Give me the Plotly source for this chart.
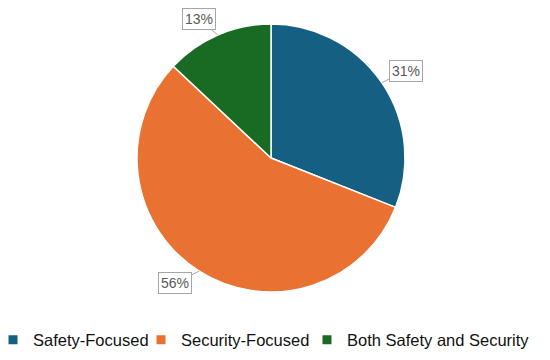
import math
import plotly.graph_objects as go

categories = ["Safety-Focused", "Security-Focused", "Both Safety and Security"]
values = [31, 56, 13]
label_texts = ["31%", "56%", "13%"]
colors = ["#156082", "#E97132", "#196B24"]

W, H = 550, 360
# the page adds an 8px body margin, so positions are expressed relative to the figure
CX_PX, CY_PX, R_PX = 263, 150, 134
dom_x = [(CX_PX - R_PX) / W, (CX_PX + R_PX) / W]
dom_y = [(H - CY_PX - R_PX) / H, (H - CY_PX + R_PX) / H]

fig = go.Figure(go.Pie(
    labels=categories, values=values, sort=False, direction="clockwise", rotation=0,
    marker=dict(colors=colors, line=dict(color="white", width=1.5)),
    textinfo="none", hoverinfo="label+percent",
    domain=dict(x=dom_x, y=dom_y), showlegend=False,
))

# legend keys (one legend per entry so each can sit where the reference puts it)
legend_names = ["legend", "legend2", "legend3"]
legend_text_x = [24, 172, 338]   # text start, figure pixels
for name, col, lg in zip(categories, colors, legend_names):
    fig.add_trace(go.Scatter(
        x=[None], y=[None], mode="markers", name=name, legend=lg,
        marker=dict(symbol="square", size=9, color=col), showlegend=True, hoverinfo="skip",
    ))

# callout labels placed at each slice's mid-angle on the pie edge
cx = (dom_x[0] + dom_x[1]) / 2
cy = (dom_y[0] + dom_y[1]) / 2
r_px = min((dom_x[1] - dom_x[0]) * W, (dom_y[1] - dom_y[0]) * H) / 2
offsets = [(24, -12), (-24, 12), (-19, -16)]
total = sum(values)
cum = 0
for v, t, (ox, oy) in zip(values, label_texts, offsets):
    mid = (cum + v / 2) / total * 2 * math.pi
    cum += v
    px = cx + r_px * math.sin(mid) / W
    py = cy + r_px * math.cos(mid) / H
    fig.add_annotation(
        x=px, y=py, xref="paper", yref="paper", text=t,
        showarrow=True, arrowhead=0, arrowwidth=1, arrowcolor="#a6a6a6",
        ax=ox, ay=oy, standoff=0,
        font=dict(family="Liberation Sans, Arial, sans-serif", size=14, color="#595959"),
        bordercolor="#a6a6a6", borderwidth=1, borderpad=2, bgcolor="white",
    )

legend_font = dict(family="Liberation Sans, Arial, sans-serif", size=16.5, color="#111111")
legend_layout = {}
for lg, tx in zip(legend_names, legend_text_x):
    legend_layout[lg] = dict(
        orientation="h", x=(tx - 39) / W, xanchor="left", y=28 / H, yanchor="middle",
        font=legend_font, itemwidth=30, bgcolor="rgba(0,0,0,0)",
    )

fig.update_layout(
    width=W, height=H,
    margin=dict(l=0, r=0, t=0, b=0, autoexpand=False),
    paper_bgcolor="white", plot_bgcolor="white",
    xaxis=dict(visible=False), yaxis=dict(visible=False),
    **legend_layout,
)

fig.write_html("out.html")
